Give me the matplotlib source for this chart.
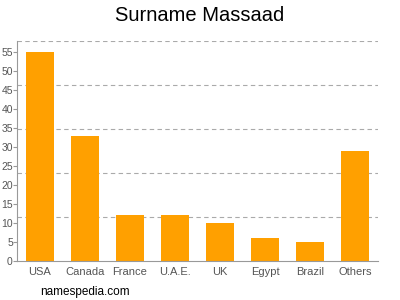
import matplotlib.pyplot as plt
import numpy as np

plt.rcParams['font.family'] = ['Liberation Sans', 'DejaVu Sans']

countries = ['USA', 'Canada', 'France', 'U.A.E.', 'UK', 'Egypt', 'Brazil', 'Others']
counts = [55, 33, 12, 12, 10, 6, 5, 29]
yticks = list(range(0, 60, 5))
ymax = 58

fig = plt.figure(figsize=(4, 3), dpi=100)
ax = fig.add_axes([0.0425, 0.13, 0.9025, 0.735])

x = np.arange(len(countries))
ax.bar(x, counts, width=0.62, color='#ffa000', zorder=2)

ax.set_xlim(-0.5, len(countries) - 0.5)
ax.set_ylim(0, ymax)
ax.set_xticks(x)
ax.set_xticklabels(countries)
ax.set_yticks(yticks)

for gy in np.linspace(0, ymax, 6)[1:]:
    ax.axhline(gy, color='#aaaaaa', linestyle=(0, (4, 3)), linewidth=0.8, zorder=1)

for s in ['top', 'right']:
    ax.spines[s].set_visible(False)
for s in ['left', 'bottom']:
    ax.spines[s].set_color('#999999')
    ax.spines[s].set_linewidth(0.8)

ax.tick_params(axis='y', colors='#999999', labelcolor='#555555', labelsize=7.5, length=3, pad=0)
ax.tick_params(axis='x', length=0, labelcolor='#555555', labelsize=8, pad=4)

fig.text(0.5, 0.948, 'Surname Massaad', ha='center', va='center', fontsize=14.5)
fig.text(0.1, 0.028, 'namespedia.com', ha='left', va='center', fontsize=8.5)

fig.savefig('out.png', dpi=100)
